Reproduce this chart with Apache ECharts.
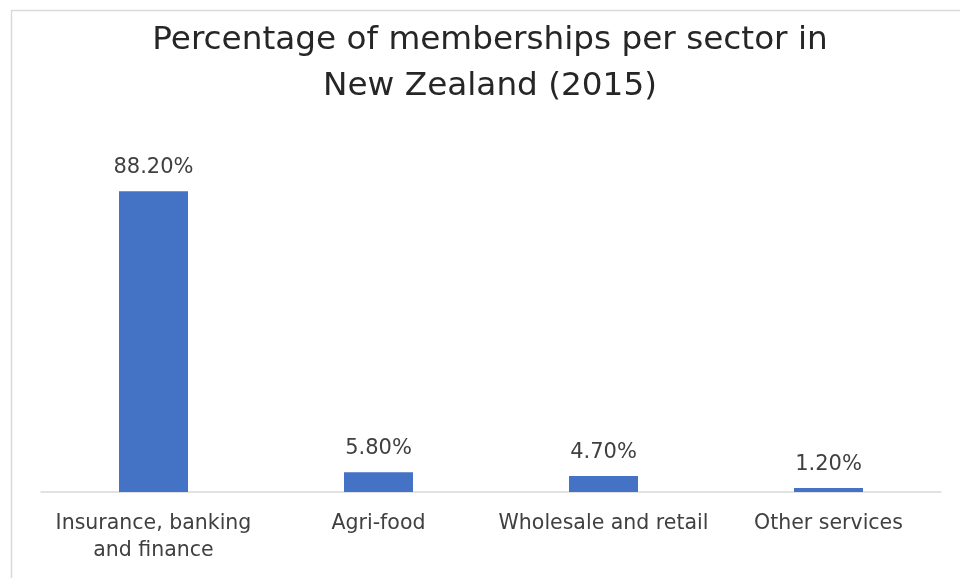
<!DOCTYPE html>
<html>
<head>
<meta charset="utf-8">
<script src="https://cdn.jsdelivr.net/npm/echarts@6/dist/echarts.min.js"></script>
<style>html,body{margin:0;padding:0;background:#fff}#c{width:960px;height:578px}</style>
</head>
<body>
<div id="c"></div>
<script>
const titleText = 'Percentage of memberships per sector in\nNew Zealand (2015)';
const categories = ['Insurance, banking\nand finance', 'Agri-food', 'Wholesale and retail', 'Other services'];
const values = [88.2, 5.8, 4.7, 1.2];

const chart = echarts.init(document.getElementById('c'));
chart.setOption({
  animation: false,
  backgroundColor: '#fff',
  graphic: [{
    type: 'rect', left: 9, top: 8, silent: true,
    shape: { width: 1000, height: 600 },
    style: { fill: 'none', stroke: '#d9d9d9', lineWidth: 1.5 }
  }],
  title: {
    text: titleText, left: 490, top: 18, textAlign: 'center',
    padding: 0,
    textStyle: { fontFamily: 'DejaVu Sans', fontSize: 32.7, fontWeight: 'normal', color: '#262626', lineHeight: 46 }
  },
  grid: { left: 41, right: 19, top: 151, bottom: 86 },
  xAxis: {
    type: 'category', data: categories,
    axisLine: { lineStyle: { color: '#d9d9d9', width: 1.5 } },
    axisTick: { show: false },
    axisLabel: { interval: 0, margin: 18, fontFamily: 'DejaVu Sans', fontSize: 20.5, lineHeight: 27, color: '#404040' }
  },
  yAxis: { type: 'value', min: 0, max: 100, show: false, splitLine: { show: false } },
  series: [{
    type: 'bar', data: values, barWidth: 69,
    itemStyle: { color: '#4472C4' },
    label: {
      show: true, position: 'top', distance: 13,
      formatter: p => p.value.toFixed(2) + '%',
      fontFamily: 'DejaVu Sans', fontSize: 21, color: '#404040'
    }
  }]
});
</script>
</body>
</html>
